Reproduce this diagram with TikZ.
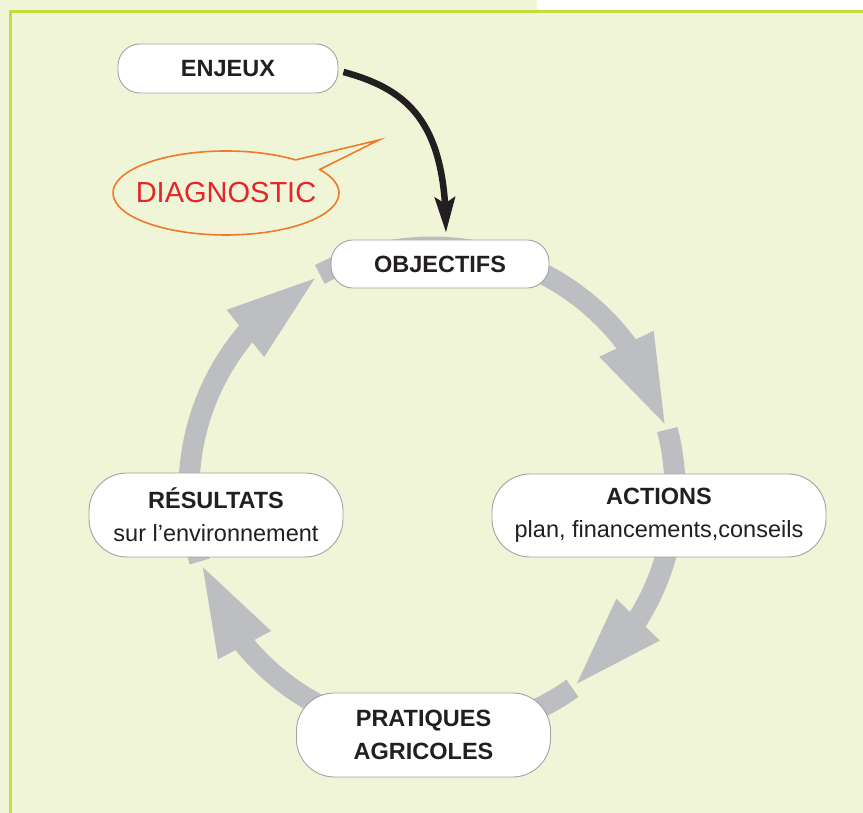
\documentclass[tikz,border=0pt]{standalone}
\usepackage{fontspec}
\setmainfont{Liberation Sans}
\usetikzlibrary{arrows.meta,bending,shapes.callouts,backgrounds,calc}

\definecolor{leaf}{HTML}{EFF5D6}
\definecolor{lime}{HTML}{C4DC3C}
\definecolor{ringgray}{HTML}{BDBEC2}
\definecolor{boxline}{HTML}{A3A3A3}
\definecolor{ink}{HTML}{231F20}
\definecolor{diagred}{HTML}{E52628}
\definecolor{diagorange}{HTML}{EE7A2A}

\begin{document}
\begin{tikzpicture}[x=1pt,
            y=1pt,
            stage/.style={draw=boxline, line width=0.9pt, fill=white,
                          rounded corners=#1, text=ink, align=center,
                          inner sep=0pt, font=\fontsize{23.5}{33}\selectfont},
            ring/.style={draw=ringgray, line width=21pt,
                         -{Triangle[length=95pt,width=53pt,flex]}},
            lead/.style={draw=ink, line width=6.5pt,
                         -{Stealth[length=35pt,width=20pt,inset=6pt]}},
            bubble/.style={ellipse callout, draw=diagorange, line width=1.6pt,
                           text=diagred, inner ysep=0pt, inner xsep=-16pt,
                           minimum width=226pt, minimum height=84pt,
                           callout pointer arc=18,
                           font=\fontsize{29}{34}\selectfont}]

        \useasboundingbox (0,0) rectangle (863,813);

        % boxes
        \node[stage=22pt, minimum width=220pt, minimum height=49pt] (enjeux)    at (228,744.5) {\textbf{ENJEUX}};
        \node[stage=22pt, minimum width=218pt, minimum height=48pt] (objectifs) at (440,549)   {\textbf{OBJECTIFS}};
        \node[stage=38pt, minimum width=334pt, minimum height=83pt] (actions)   at (659,297.5) {\textbf{ACTIONS}\\plan, financements,conseils};
        \node[stage=38pt, minimum width=254pt, minimum height=84pt] (pratiques) at (423.5,78)  {\textbf{PRATIQUES}\\\textbf{AGRICOLES}};
        \node[stage=38pt, minimum width=254pt, minimum height=84pt] (resultats) at (216,298)   {\textbf{RÉSULTATS}\\sur l’environnement};

        \node[bubble, callout absolute pointer={(379,673)}] (diag) at (226,620) {DIAGNOSTIC};

        \draw[lead] ([xshift=5pt,yshift=-3.5pt]enjeux.east)
            .. controls +(67pt,-18pt) and +(0,108pt) .. ([xshift=6pt,yshift=7pt]objectifs.north);

        % the cycle, behind the boxes
        \coordinate (cyc) at (432,323);
        \coordinate (atObj) at ($(cyc)+(117.5:243pt)$);
        \coordinate (atAct) at ($(cyc)+(14.4:243pt)$);
        \coordinate (atPra) at ($(cyc)+(-54.7:243pt)$);
        \coordinate (atRes) at ($(cyc)+(197.1:243pt)$);

        \begin{scope}[on background layer]
            \fill[leaf] (0,0) rectangle (863,813);
            \fill[white] (537,802) rectangle (863,813);
            \draw[lime, line width=3pt] (863,801) -- (10,801) -- (10,0);

            \draw[ring] (atObj) arc[start angle=117.5, end angle=14.4,   radius=243pt];
            \draw[ring] (atAct) arc[start angle=14.4,  end angle=-54.7,  radius=243pt];
            \draw[ring] (atPra) arc[start angle=-54.7, end angle=-162.9, radius=243pt];
            \draw[ring] (atRes) arc[start angle=197.1, end angle=117.5,  radius=243pt];
        \end{scope}

    \end{tikzpicture}
\end{document}
